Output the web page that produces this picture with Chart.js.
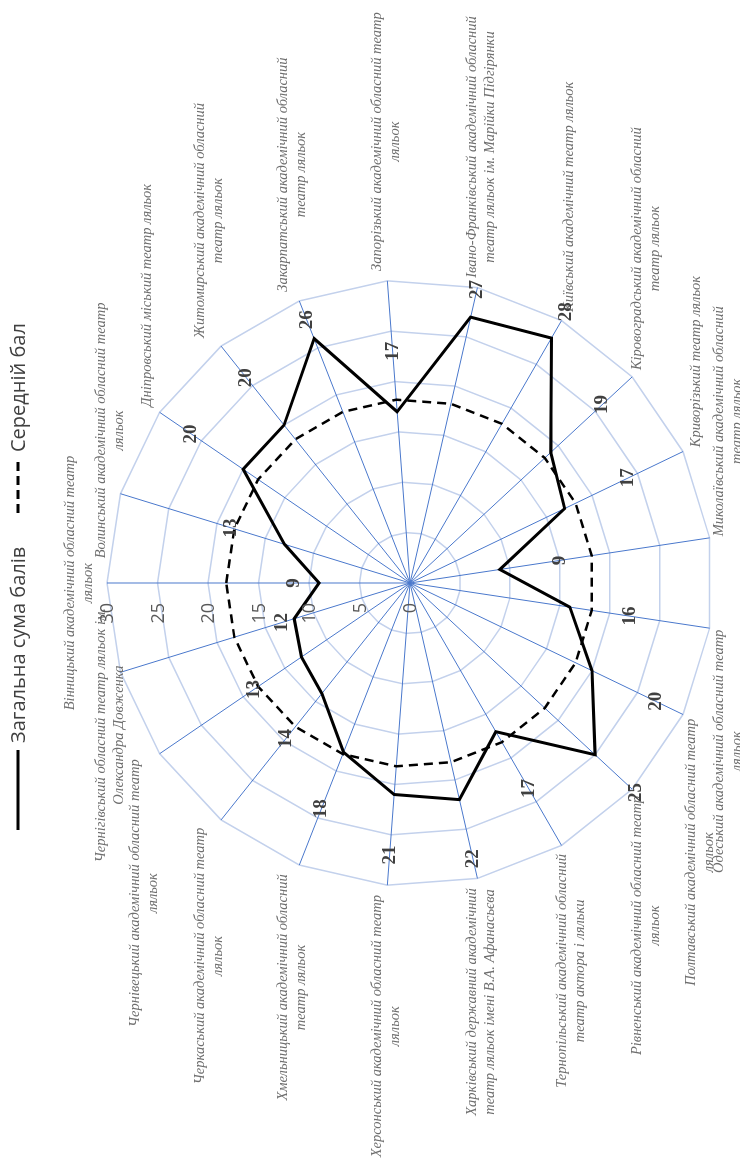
<!DOCTYPE html>
<html lang="uk">
<head>
<meta charset="utf-8">
<title>Театри ляльок</title>
<script src="https://cdn.jsdelivr.net/npm/chart.js@4.4.1/dist/chart.umd.min.js"></script>
<style>
    html, body {
        margin: 0;
        padding: 0;
        background: #ffffff;
        width: 740px;
        height: 1169px;
        overflow: hidden;
    }

    /* the chart is drawn landscape and turned a quarter to the left */
    #frame {
        position: absolute;
        left: 0;
        top: 0;
        width: 1169px;
        height: 740px;
        transform-origin: 0 0;
        transform: translate(0, 1169px) rotate(-90deg);
    }
</style>
</head>
<body>
<div id="frame">
    <canvas id="radarChart" width="1169" height="740"></canvas>
</div>

<script>
const theatres = [
    ['Вінницький академічний обласний театр', 'ляльок'],
    ['Волинський академічний обласний театр', 'ляльок'],
    ['Дніпровський міський театр ляльок'],
    ['Житомирський академічний обласний', 'театр ляльок'],
    ['Закарпатський академічний обласний', 'театр ляльок'],
    ['Запорізький академічний обласний театр', 'ляльок'],
    ['Івано-Франківський академічний обласний', 'театр ляльок ім. Марійки Підгірянки'],
    ['Київський академічний театр ляльок'],
    ['Кіровоградський академічний обласний', 'театр ляльок'],
    ['Криворізький театр ляльок'],
    ['Миколаївський академічний обласний', 'театр ляльок'],
    ['Одеський академічний обласний театр', 'ляльок'],
    ['Полтавський академічний обласний театр', 'ляльок'],
    ['Рівненський академічний обласний театр', 'ляльок'],
    ['Тернопільський академічний обласний', 'театр актора і ляльки'],
    ['Харківський державний академічний', 'театр ляльок імені В.А. Афанасьєва'],
    ['Херсонський академічний обласний театр', 'ляльок'],
    ['Хмельницький академічний обласний', 'театр ляльок'],
    ['Черкаський академічний обласний театр', 'ляльок'],
    ['Чернівецький академічний обласний театр', 'ляльок'],
    ['Чернігівський обласний театр ляльок ім.', 'Олександра Довженка'],
];

const totalScores = [9, 13, 20, 20, 26, 17, 27, 28, 19, 17, 9, 16, 20, 25, 17, 22, 21, 18, 14, 13, 12];

const averageScores = [
    18.2, 18.2, 18.2, 18.2, 18.2, 18.2, 18.2,
    18.2, 18.2, 18.2, 18.2, 18.2, 18.2, 18.2,
    18.2, 18.2, 18.2, 18.2, 18.2, 18.2, 18.2,
];

const radialTicks = [0, 5, 10, 15, 20, 25, 30];

const seriesNames = ['Загальна сума балів', 'Середній бал'];

// how far past its point each value label sits, in scale units
const valueLabelShift = [2.5, 5.5, 6.2, 6, 2, 6, 2.8, 3, 7, 7, 6, 6, 7, 5.5, 6.5, 6, 6, 6, 5.7, 5.7, 1.3];

const GREY_TEXT = '#404040';
const LABEL_TEXT = '#6e6e6e';

const labelsPlugin = {
    id: 'radarLabels',
    afterDatasetsDraw(chart) {
        const ctx = chart.ctx;
        const scale = chart.scales.r;

        ctx.save();

        // category names round the outside
        ctx.font = 'italic 14.5px "Liberation Serif", "DejaVu Serif", serif';
        ctx.fillStyle = LABEL_TEXT;
        ctx.textAlign = 'center';
        ctx.textBaseline = 'middle';
        const lineHeight = 18;

        theatres.forEach(function (lines, i) {
            const angle = scale.getIndexAngle(i);
            const s = Math.sin(angle);
            const c = Math.cos(angle);
            const p = scale.getPointPosition(i, scale.drawingArea + 10);
            const w = Math.max.apply(null, lines.map(function (t) { return ctx.measureText(t).width; }));
            const h = lines.length * lineHeight;

            let hFrac;
            let vFrac;
            if (Math.abs(s) < 0.05) {
                hFrac = 0.5;
                vFrac = c > 0 ? 1 : 0;
            } else if (c > 0.9) {
                hFrac = 0.5 - 0.8 * s;
                vFrac = 0.52;
            } else if (c > 0) {
                hFrac = Math.min(1, Math.max(0, 0.5 - 0.9 * s));
                vFrac = 0.5 + 0.25 * c;
            } else {
                hFrac = s > 0 ? 0 : 1;
                vFrac = 0.5 + 0.25 * c;
            }

            const left = p.x - w * hFrac;
            const top = p.y - h * vFrac;
            lines.forEach(function (text, k) {
                ctx.fillText(text, left + w / 2, top + lineHeight * (k + 0.5));
            });
        });

        // radial tick values, set just left of the first spoke
        ctx.font = '18px "Open Sans", "Liberation Sans", sans-serif';
        ctx.fillStyle = '#595959';
        ctx.textAlign = 'right';
        radialTicks.forEach(function (v) {
            const d = scale.getDistanceFromCenterForValue(v);
            ctx.fillText(String(v), scale.xCenter - 20, scale.yCenter - d + 1);
        });

        // value labels
        ctx.font = 'bold 19px "Liberation Serif", "DejaVu Serif", serif';
        ctx.fillStyle = GREY_TEXT;
        ctx.textAlign = 'center';
        totalScores.forEach(function (v, i) {
            const d = scale.getDistanceFromCenterForValue(v + valueLabelShift[i]);
            const p = scale.getPointPosition(i, d);
            ctx.fillText(String(v), p.x, p.y);
        });

        // legend across the top
        const legendY = 18;
        ctx.font = '20px "Open Sans", "Liberation Sans", sans-serif';
        ctx.textAlign = 'left';
        ctx.fillStyle = GREY_TEXT;
        ctx.strokeStyle = '#000000';
        ctx.lineWidth = 3;

        ctx.beginPath();
        ctx.moveTo(339, legendY);
        ctx.lineTo(419, legendY);
        ctx.stroke();
        ctx.fillText(seriesNames[0], 426, legendY + 1);

        ctx.setLineDash([9, 5]);
        ctx.beginPath();
        ctx.moveTo(656, legendY);
        ctx.lineTo(707, legendY);
        ctx.stroke();
        ctx.setLineDash([]);
        ctx.fillText(seriesNames[1], 717, legendY + 1);

        ctx.restore();
    },
};

new Chart(document.getElementById('radarChart'), {
    type: 'radar',
    data: {
        labels: theatres,
        datasets: [
            {
                label: seriesNames[0],
                data: totalScores,
                borderColor: '#000000',
                borderWidth: 3,
                pointRadius: 0,
                fill: false,
                tension: 0,
            },
            {
                label: seriesNames[1],
                data: averageScores,
                borderColor: '#000000',
                borderWidth: 2.5,
                borderDash: [9, 6],
                pointRadius: 0,
                fill: false,
                tension: 0,
            },
        ],
    },
    options: {
        responsive: false,
        animation: false,
        events: [],
        layout: {
            padding: { left: 283, right: 280, top: 107, bottom: 27 },
        },
        plugins: {
            legend: { display: false },
            tooltip: { enabled: false },
        },
        scales: {
            r: {
                min: 0,
                max: 30,
                ticks: {
                    display: false,
                    stepSize: 5,
                },
                grid: {
                    color: '#c3d1ec',
                    lineWidth: 1.5,
                },
                angleLines: {
                    color: '#4a78cc',
                    lineWidth: 1,
                },
                pointLabels: {
                    display: false,
                },
            },
        },
    },
    plugins: [labelsPlugin],
});
</script>
</body>
</html>
